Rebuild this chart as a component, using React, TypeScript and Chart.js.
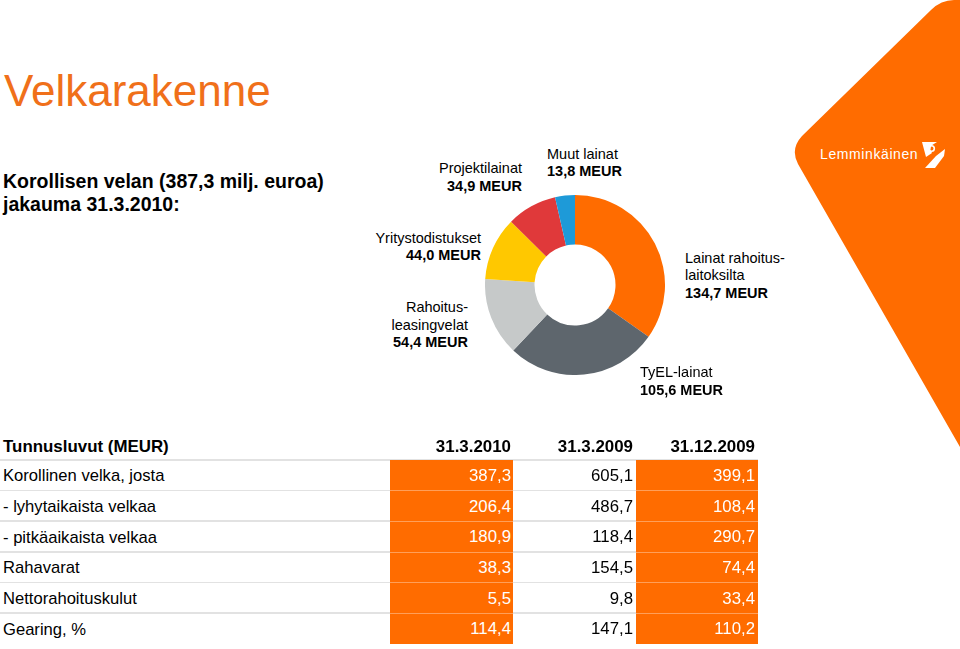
import React, { useEffect, useRef } from "react";
import { Chart, registerables } from "chart.js";

Chart.register(...registerables);

// ---- Donut data (MEUR, 31.3.2010) ----
const debtCategories = [
  "Lainat rahoituslaitoksilta",
  "TyEL-lainat",
  "Rahoitusleasingvelat",
  "Yritystodistukset",
  "Projektilainat",
  "Muut lainat",
];
const debtValues = [134.7, 105.6, 54.4, 44.0, 34.9, 13.8];
const debtColors = ["#FF6C00", "#5E666D", "#C6C9C9", "#FFC800", "#E0393A", "#1E9AD8"];

// ---- Table data ----
const tableTitle = "Tunnusluvut (MEUR)";
const rowLabels = [
  "Korollinen velka, josta",
  "- lyhytaikaista velkaa",
  "- pitkäaikaista velkaa",
  "Rahavarat",
  "Nettorahoituskulut",
  "Gearing, %",
];
const columnHeaders = ["31.3.2010", "31.3.2009", "31.12.2009"];
const values2010Q1 = [387.3, 206.4, 180.9, 38.3, 5.5, 114.4];
const values2009Q1 = [605.1, 486.7, 118.4, 154.5, 9.8, 147.1];
const values2009FY = [399.1, 108.4, 290.7, 74.4, 33.4, 110.2];

const FONT = '"Liberation Sans", Arial, Helvetica, sans-serif';
const ORANGE = "#FF6C00";

const fmt = (v: number) => v.toFixed(1).replace(".", ",");

type TxtProps = {
  x: number;
  y: number; // baseline
  size: number;
  bold?: boolean;
  color?: string;
  align?: "left" | "right";
  children: React.ReactNode;
  font?: string;
  spacing?: number;
};

function Txt({ x, y, size, bold, color = "#000", align = "left", children, font, spacing }: TxtProps) {
  const top = y - 0.8465 * size;
  const style: React.CSSProperties = {
    position: "absolute",
    top,
    fontFamily: font || FONT,
    fontSize: size,
    lineHeight: `${size}px`,
    fontWeight: bold ? 700 : 400,
    color,
    whiteSpace: "nowrap",
    letterSpacing: spacing,
  };
  if (align === "right") style.right = 960 - x;
  else style.left = x;
  return <div style={style}>{children}</div>;
}

function Donut() {
  const ref = useRef<HTMLCanvasElement | null>(null);
  useEffect(() => {
    if (!ref.current) return;
    const chart = new Chart(ref.current, {
      type: "doughnut",
      data: {
        labels: debtCategories,
        datasets: [
          {
            data: debtValues,
            backgroundColor: debtColors,
            borderWidth: 0,
          },
        ],
      },
      options: {
        responsive: false,
        animation: false,
        cutout: "45%",
        layout: { padding: 0 },
        plugins: { legend: { display: false }, tooltip: { enabled: false } },
      },
    });
    return () => chart.destroy();
  }, []);
  return (
    <canvas
      ref={ref}
      width={180}
      height={180}
      style={{ position: "absolute", left: 485, top: 195, width: 180, height: 180 }}
    />
  );
}

export default function App() {
  const colRight = [511, 633, 755];
  const rowTop = 460;
  const rowH = 30.67;
  const columns = [values2010Q1, values2009Q1, values2009FY];
  const orangeCols = [
    [390, 512.5],
    [636, 758],
  ];
  const nRows = rowLabels.length;
  const lineYs = Array.from({ length: nRows }, (_, i) => rowTop + i * rowH);

  const lbl = 14.5;
  return (
    <div
      style={{
        position: "absolute",
        left: 0,
        top: 0,
        width: 960,
        height: 649,
        overflow: "hidden",
        background: "#fff",
        fontFamily: FONT,
      }}
    >
      {/* decorative orange shape with logo */}
      <svg width={960} height={649} style={{ position: "absolute", left: 0, top: 0 }}>
        <path d="M960 0 L954 0 Q941 0 931 10 L802 136 Q790 149 798 164 L960 447 Z" fill={ORANGE} />
        <path d="M922 142 L937 142 Q927 147 932 153 L926 157 Z" fill="#fff" />
        <circle cx={931.5} cy={148.5} r={2.8} fill="none" stroke="#fff" strokeWidth={1.6} />
        <path d="M945 149 L944 156 L935 168 L925 168 L936 156 Z" fill="#fff" />
      </svg>
      <Txt x={820} y={159} size={14} color="#fff" spacing={0.6}>
        Lemminkäinen
      </Txt>

      {/* titles */}
      <Txt x={4} y={106} size={44} color="#F0701A">
        Velkarakenne
      </Txt>
      <Txt x={3} y={189} size={19.5} bold>
        Korollisen velan (387,3 milj. euroa)
      </Txt>
      <Txt x={3} y={212} size={19.5} bold>
        jakauma 31.3.2010:
      </Txt>

      {/* donut */}
      <Donut />

      {/* donut labels */}
      <Txt x={547} y={159.3} size={lbl}>Muut lainat</Txt>
      <Txt x={547} y={176.7} size={lbl} bold>{fmt(debtValues[5])} MEUR</Txt>

      <Txt x={522} y={173.3} size={lbl} align="right">Projektilainat</Txt>
      <Txt x={522} y={191} size={lbl} bold align="right">{fmt(debtValues[4])} MEUR</Txt>

      <Txt x={481} y={243.3} size={lbl} align="right">Yritystodistukset</Txt>
      <Txt x={481} y={260} size={lbl} bold align="right">{fmt(debtValues[3])} MEUR</Txt>

      <Txt x={468} y={312.7} size={lbl} align="right">Rahoitus-</Txt>
      <Txt x={468} y={330} size={lbl} align="right">leasingvelat</Txt>
      <Txt x={468} y={347.3} size={lbl} bold align="right">{fmt(debtValues[2])} MEUR</Txt>

      <Txt x={685} y={263.3} size={lbl}>Lainat rahoitus-</Txt>
      <Txt x={685} y={280.5} size={lbl}>laitoksilta</Txt>
      <Txt x={685} y={298.3} size={lbl} bold>{fmt(debtValues[0])} MEUR</Txt>

      <Txt x={640} y={377.3} size={lbl}>TyEL-lainat</Txt>
      <Txt x={640} y={395} size={lbl} bold>{fmt(debtValues[1])} MEUR</Txt>

      {/* table */}
      {lineYs.map((y, i) => (
        <div
          key={"g" + i}
          style={{ position: "absolute", left: 0, top: y - 1, width: 758, height: 1.5, background: "#E2E2E2" }}
        />
      ))}
      {orangeCols.map(([x0, x1], i) => (
        <div
          key={"o" + i}
          style={{
            position: "absolute",
            left: x0,
            top: rowTop,
            width: x1 - x0,
            height: rowH * nRows,
            background: ORANGE,
          }}
        />
      ))}
      {orangeCols.map(([x0, x1], i) =>
        lineYs.slice(1).map((y, j) => (
          <div
            key={"w" + i + "-" + j}
            style={{
              position: "absolute",
              left: x0,
              top: y - 0.5,
              width: x1 - x0,
              height: 1,
              background: "rgba(255,255,255,0.35)",
            }}
          />
        ))
      )}
      <Txt x={3} y={453} size={16.9} bold>{tableTitle}</Txt>
      {columnHeaders.map((h, i) => (
        <Txt key={"h" + i} x={colRight[i]} y={453} size={16.9} bold align="right">
          {h}
        </Txt>
      ))}
      {rowLabels.map((l, r) => (
        <Txt key={"l" + r} x={3} y={482.3 + r * rowH} size={16.6}>
          {l}
        </Txt>
      ))}
      {columns.map((col, c) =>
        col.map((v, r) => (
          <Txt
            key={"v" + c + "-" + r}
            x={colRight[c]}
            y={482.3 + r * rowH}
            size={16.8}
            align="right"
            color={c === 1 ? "#000" : "#fff"}
          >
            {fmt(v)}
          </Txt>
        ))
      )}
    </div>
  );
}
